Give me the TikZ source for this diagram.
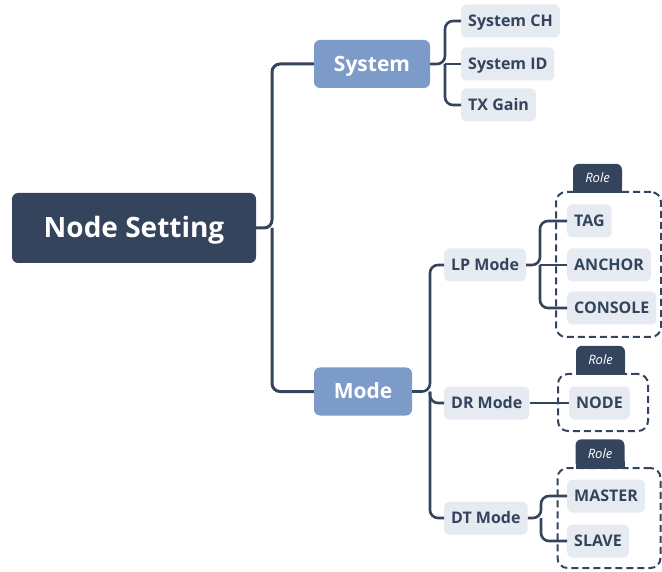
\documentclass[tikz,border=0pt]{standalone}
\usepackage{fontspec}
\setmainfont{Open Sans}

\definecolor{navy}{HTML}{34445C}
\definecolor{steel}{HTML}{7C9BC9}
\definecolor{leafgray}{HTML}{E6EAF1}

\begin{document}
\begin{tikzpicture}[x=1pt, y=-1pt,
rootnode/.style={rectangle, rounded corners=6pt, fill=navy, text=white, font=\fontsize{28}{32}\selectfont\bfseries, text height=20pt, text depth=0pt, minimum width=244pt, minimum height=70pt},
mainnode/.style={rectangle, rounded corners=6pt, fill=steel, text=white, font=\fontsize{21}{24}\selectfont\bfseries, text height=15pt, text depth=0pt, minimum height=48pt},
leafnode/.style={rectangle, rounded corners=5pt, fill=leafgray, text=navy, font=\fontsize{16}{18}\selectfont\bfseries, text height=11.4pt, text depth=0pt, inner xsep=7pt, minimum height=33pt, anchor=west},
rolebox/.style={rectangle, rounded corners=10pt, draw=navy, line width=2pt, dash pattern=on 7pt off 4pt},
roletab/.style={rectangle, rounded corners=6pt, fill=navy, text=white, font=\fontsize{13}{15}\selectfont\itshape, text height=9.3pt, text depth=0pt, minimum width=49pt, minimum height=29pt, anchor=south},
link/.style={draw=navy, line width=2.6pt, rounded corners=8pt},
]
  \useasboundingbox (0,0) rectangle (662,572);

  % dashed role groups with their tabs
  \node (lpgroup) [rolebox, minimum width=105pt, minimum height=145pt] at (608.5,264.5) {};
  \node (drgroup) [rolebox, minimum width=90pt, minimum height=57pt] at (603,402.5) {};
  \node (dtgroup) [rolebox, minimum width=103pt, minimum height=100pt] at (609,518) {};
  \foreach \n/\x/\y in {lptab/597.5/193, drtab/600.5/375, dttab/600/468.5} {
    \fill[navy] (\x-24.5,\y) rectangle (\x+24.5,\y-8); % square lower corners
    \node (\n) [roletab] at (\x,\y) {Role};
  }

  % tree
  \node (root) [rootnode] at (134,228) {Node Setting};
  \node (sys) [mainnode, minimum width=116pt] at (372,64) {System};
  \node (mode) [mainnode, minimum width=98pt] at (363,391.5) {Mode};

  \node (sysch) [leafnode] at (461,21) {System CH};
  \node (sysid) [leafnode] at (461,64) {System ID};
  \node (txgain) [leafnode] at (461,105) {TX Gain};

  \node (lp) [leafnode] at (444,265) {LP Mode};
  \node (dr) [leafnode] at (444,403) {DR Mode};
  \node (dt) [leafnode] at (444,518) {DT Mode};

  \node (tag) [leafnode] at (567,221) {TAG};
  \node (anchor) [leafnode] at (567,265) {ANCHOR};
  \node (console) [leafnode] at (567,308) {CONSOLE};
  \node (nodeleaf) [leafnode] at (569,403) {NODE};
  \node (master) [leafnode] at (567,496) {MASTER};
  \node (slave) [leafnode] at (567,541) {SLAVE};

  % branch points
  \coordinate (rootfork) at (272,228);
  \coordinate (sysfork) at (445,64);
  \coordinate (modefork) at (430,391.5);
  \coordinate (lpfork) at (540,265);
  \coordinate (dtfork) at (541,518);

  % connectors
  \draw[link, line width=3pt] (root.east) -- (rootfork) |- (sys.west);
  \draw[link, line width=3pt] (rootfork) |- (mode.west);

  \draw[link] (sys.east) -- (sysfork) |- (sysch.west);
  \draw[link] (sysfork) -- (sysid.west);
  \draw[link] (sysfork) |- (txgain.west);

  \draw[link] (mode.east) -- (modefork) |- (lp.west);
  \draw[link] (modefork) |- (dr.west);
  \draw[link] (modefork) |- (dt.west);

  \draw[link] (lp.east) -- (lpfork) |- (tag.west);
  \draw[link] (lpfork) -- (anchor.west);
  \draw[link] (lpfork) |- (console.west);

  \draw[link] (dr.east) -- (nodeleaf.west);

  \draw[link] (dt.east) -- (dtfork) |- (master.west);
  \draw[link] (dtfork) |- (slave.west);
\end{tikzpicture}
\end{document}
